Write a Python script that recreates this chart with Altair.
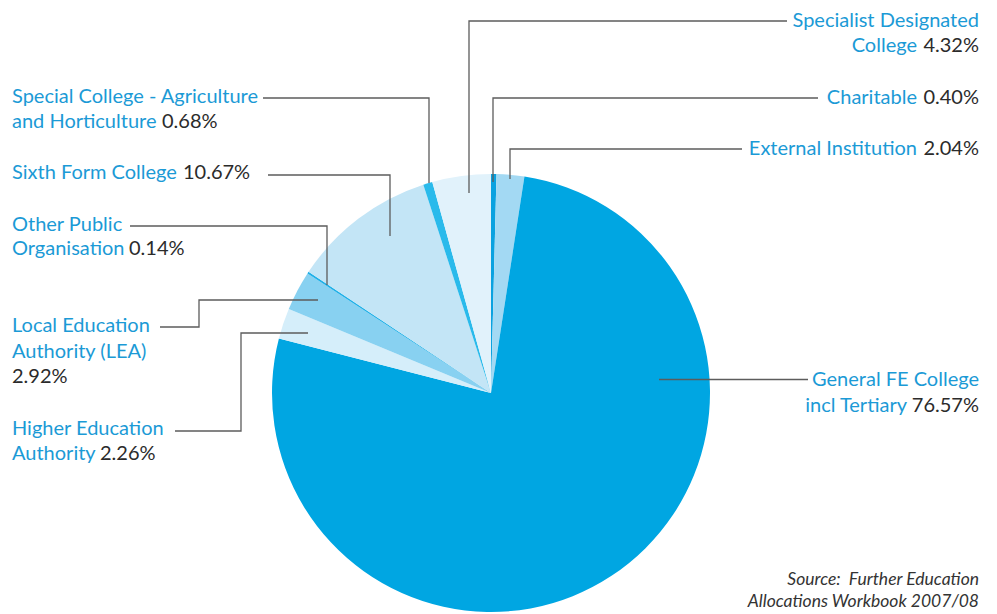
import altair as alt
import pandas as pd

# ---- data ----
categories = [
    "Charitable", "External Institution", "General FE College incl Tertiary",
    "Higher Education Authority", "Local Education Authority (LEA)",
    "Other Public Organisation", "Sixth Form College",
    "Special College - Agriculture and Horticulture",
    "Specialist Designated College",
]
shares = [0.40, 2.04, 76.57, 2.26, 2.92, 0.14, 10.67, 0.68, 4.32]
colors = ["#0aa2e0", "#a3d9f3", "#00a6e2", "#d5eefa", "#88d1f1",
          "#1fb0e8", "#c3e5f6", "#2abaeb", "#e1f2fb"]

# label line texts (name parts in blue, value in dark)
name_lines = [
    ["Charitable"],
    ["External Institution"],
    ["General FE College", "incl Tertiary"],
    ["Higher Education", "Authority"],
    ["Local Education", "Authority (LEA)"],
    ["Other Public", "Organisation"],
    ["Sixth Form College"],
    ["Special College - Agriculture", "and Horticulture"],
    ["Specialist Designated", "College"],
]
source_lines = ["Source:\u00a0 Further Education", "Allocations Workbook 2007/08"]

# ---- layout (image pixel coordinates) ----
W, H = 981, 606
OFF = 8
CX, CY, R = 491, 393, 219
FONT = "Lato"
FS = 20
BLUE = "#1b9ad6"
DARK = "#2b2b2b"

# per category: side, name line anchors [(x, y)], value anchor (x, y)
label_layout = [
    ("right", [(917, 104)], (979, 104)),
    ("right", [(917, 155)], (979, 155)),
    ("right", [(979, 386), (907, 412)], (979, 412)),
    ("left", [(12, 435), (12, 460)], (100, 460)),
    ("left", [(12, 332), (12, 358)], (12, 383)),
    ("left", [(12, 231), (12, 255)], (129, 255)),
    ("left", [(12, 179)], (183, 179)),
    ("left", [(12, 103), (12, 128)], (162, 128)),
    ("right", [(979, 27), (917, 52)], (979, 52)),
]
leader_paths = [
    [(818, 98), (493, 98), (493, 182)],
    [(742, 149), (510, 149), (510, 179)],
    [(808, 379.5), (659, 379.5)],
    [(175, 431), (241, 431), (241, 333), (308, 333)],
    [(160, 327), (199, 327), (199, 300), (318, 300)],
    [(130, 226), (327, 226), (327, 285)],
    [(268, 175), (390, 175), (390, 236)],
    [(263, 98), (429, 98), (429, 183)],
    [(787, 21), (469, 21), (469, 193)],
]
source_pos = [(979, 585), (979, 607)]

# ---- tables ----
pie_df = pd.DataFrame({"cat": categories, "share": shares,
                       "idx": list(range(len(categories)))})

name_rows, value_rows, line_rows = [], [], []
for i, cat in enumerate(categories):
    side, anchors, vpos = label_layout[i]
    for txt, (x, y) in zip(name_lines[i], anchors):
        name_rows.append({"t": txt, "x": x, "y": y, "side": side})
    value_rows.append({"t": f"{shares[i]:.2f}%", "x": vpos[0], "y": vpos[1],
                       "side": side})
    for k, (x, y) in enumerate(leader_paths[i]):
        line_rows.append({"seg": i, "k": k, "x": x, "y": y})
names_df = pd.DataFrame(name_rows)
values_df = pd.DataFrame(value_rows)
lines_df = pd.DataFrame(line_rows)
src_df = pd.DataFrame({"t": source_lines,
                       "x": [p[0] for p in source_pos],
                       "y": [p[1] for p in source_pos]})

xs = alt.Scale(domain=[OFF, OFF + W])
ys = alt.Scale(domain=[OFF, OFF + H], reverse=True)
X = alt.X("x:Q", scale=xs, axis=None)
Y = alt.Y("y:Q", scale=ys, axis=None)

pie = alt.Chart(pie_df).mark_arc(outerRadius=R, stroke=None).encode(
    theta=alt.Theta("share:Q", stack=True),
    order=alt.Order("idx:Q", sort="ascending"),
    color=alt.Color("cat:N", scale=alt.Scale(domain=categories, range=colors),
                    legend=None),
    x=alt.value(CX - OFF), y=alt.value(CY - OFF),
)

lines = alt.Chart(lines_df).mark_line(color="#5c5c5c", strokeWidth=1.3).encode(
    x=X, y=Y, detail="seg:N", order="k:Q")

def text_layer(df, side, color, italic=False, size=FS):
    return alt.Chart(df).transform_filter(
        alt.datum.side == side).mark_text(
        align=side, baseline="alphabetic", font=FONT, fontSize=size,
        color=color, fontStyle="italic" if italic else "normal").encode(
        x=X, y=Y, text="t:N")

names_l = text_layer(names_df, "left", BLUE)
names_r = text_layer(names_df, "right", BLUE)
vals_l = text_layer(values_df, "left", DARK)
vals_r = text_layer(values_df, "right", DARK)
src = alt.Chart(src_df).mark_text(
    align="right", baseline="alphabetic", font=FONT, fontSize=17.5,
    fontStyle="italic", color="#333333").encode(x=X, y=Y, text="t:N")

chart = alt.layer(pie, lines, names_l, names_r, vals_l, vals_r, src).properties(
    width=W, height=H, padding=0, autosize=alt.AutoSizeParams(type="none"),
).configure_view(stroke=None)

chart.save("out.html", embed_options={"renderer": "svg", "actions": False})
